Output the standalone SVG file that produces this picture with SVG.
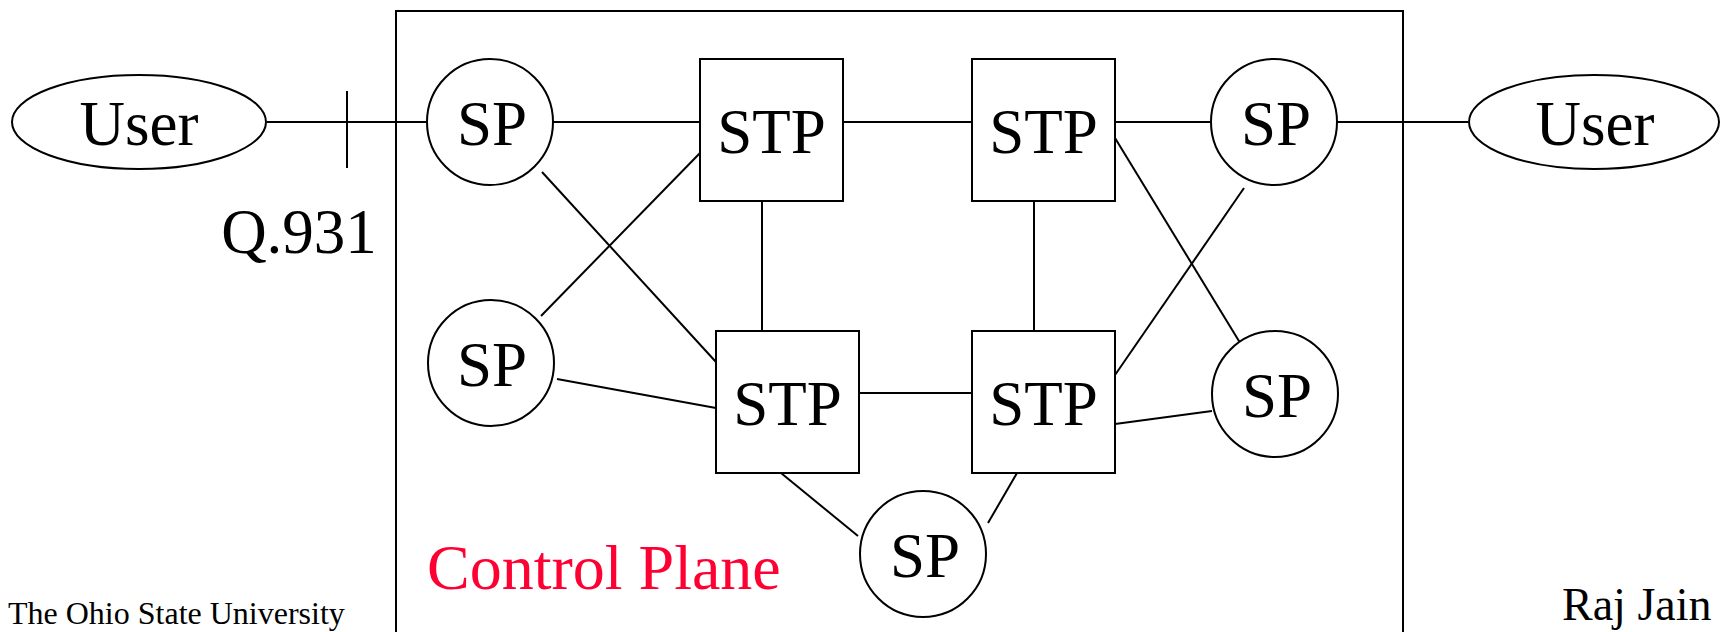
<svg xmlns="http://www.w3.org/2000/svg" width="1720" height="632" viewBox="0 0 1720 632">
<style>
.n{fill:#fff;stroke:#000;stroke-width:2}
.t{font-family:"Liberation Serif","Times New Roman",serif;font-size:63px;fill:#000;text-anchor:middle}
.c line{stroke:#000;stroke-width:2}
</style>
<rect width="1720" height="632" fill="#fff"/>
<rect id="frame" x="396" y="11" width="1007" height="640" fill="none" stroke="#000" stroke-width="2"/>
<g class="c" id="connectors">
<line x1="267" y1="122" x2="427" y2="122"/>
<line x1="347" y1="91" x2="347" y2="168"/>
<line x1="553" y1="122" x2="700" y2="122"/>
<line x1="843" y1="122" x2="972" y2="122"/>
<line x1="1115" y1="122" x2="1211" y2="122"/>
<line x1="1337" y1="122" x2="1468" y2="122"/>
<line x1="542" y1="172" x2="716" y2="362"/>
<line x1="700" y1="153" x2="541" y2="316"/>
<line x1="762" y1="201" x2="762" y2="331"/>
<line x1="1034" y1="201" x2="1034" y2="331"/>
<line x1="557" y1="379" x2="716" y2="408"/>
<line x1="859" y1="393" x2="972" y2="393"/>
<line x1="781" y1="473" x2="858" y2="536"/>
<line x1="1017" y1="473" x2="988" y2="523"/>
<line x1="1115" y1="424" x2="1212" y2="411"/>
<line x1="1115" y1="138" x2="1242" y2="346"/>
<line x1="1244" y1="188" x2="1115" y2="375"/>
</g>
<g id="user-left"><ellipse class="n" cx="139" cy="122" rx="127" ry="47"/><text class="t" x="139" y="145">User</text></g>
<g id="user-right"><ellipse class="n" cx="1594" cy="122" rx="125" ry="47"/><text class="t" x="1595" y="145">User</text></g>
<g id="sp1"><circle class="n" cx="490" cy="122" r="63"/><text class="t" x="492" y="145">SP</text></g>
<g id="sp2"><circle class="n" cx="491" cy="363" r="63"/><text class="t" x="492" y="386">SP</text></g>
<g id="sp3"><circle class="n" cx="1274" cy="122" r="63"/><text class="t" x="1276" y="145">SP</text></g>
<g id="sp4"><circle class="n" cx="1275" cy="394" r="63"/><text class="t" x="1277" y="417">SP</text></g>
<g id="sp5"><circle class="n" cx="923" cy="554" r="63"/><text class="t" x="925" y="577">SP</text></g>
<g id="stp1"><rect class="n" x="700" y="59" width="143" height="142"/><text class="t" x="771.5" y="153">STP</text></g>
<g id="stp2"><rect class="n" x="972" y="59" width="143" height="142"/><text class="t" x="1043.5" y="153">STP</text></g>
<g id="stp3"><rect class="n" x="716" y="331" width="143" height="142"/><text class="t" x="787.5" y="425">STP</text></g>
<g id="stp4"><rect class="n" x="972" y="331" width="143" height="142"/><text class="t" x="1043.5" y="425">STP</text></g>
<text class="t" x="299" y="253">Q.931</text>
<text x="427" y="589" style="font-family:'Liberation Serif','Times New Roman',serif;font-size:64px;fill:#ff0033">Control Plane</text>
<text x="8" y="624" style="font-family:'Liberation Serif','Times New Roman',serif;font-size:32px;fill:#000">The Ohio State University</text>
<text x="1562" y="620" style="font-family:'Liberation Serif','Times New Roman',serif;font-size:46px;fill:#000">Raj Jain</text>
</svg>
